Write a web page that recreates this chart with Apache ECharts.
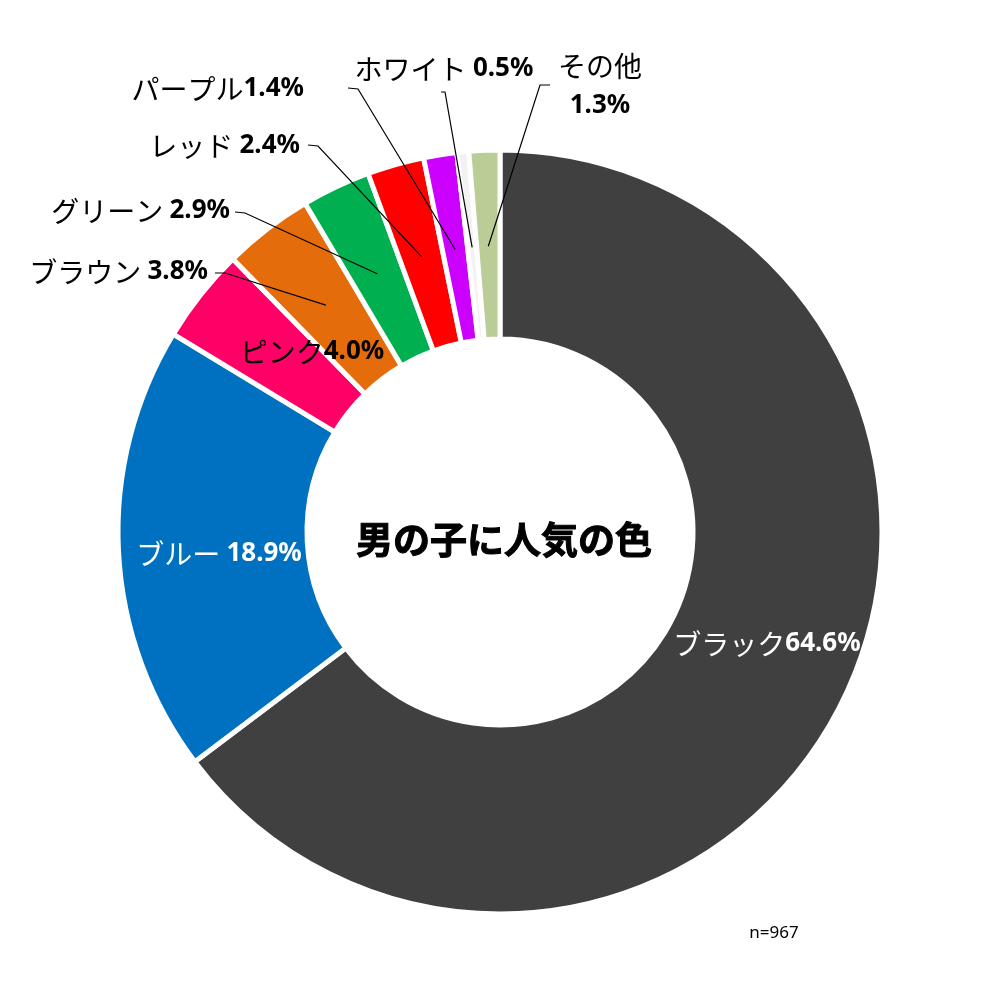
<!DOCTYPE html>
<html><head><meta charset="utf-8">
<script src="https://cdn.jsdelivr.net/npm/echarts@6/dist/echarts.min.js"></script>
<style>html,body{margin:0;padding:0;background:#fff}#c{width:1000px;height:1000px}</style>
</head><body><div id="c"></div>
<script>
// ---- data ----
const categories = ['ブラック','ブルー','ピンク','ブラウン','グリーン','レッド','パープル','ホワイト','その他'];
const shares = [64.6, 18.9, 4.0, 3.8, 2.9, 2.4, 1.4, 0.5, 1.3];
const sliceColors = ['#404040','#0070C0','#FF0066','#E46C0A','#00B050','#FF0000','#CC00FF','#F2F2F2','#BACD97'];
const chartTitle = '男の子に人気の色';
const sampleNote = 'n=967';

// ---- label layout (style / positions only) ----
const labelSpots = [
  {x:767, y:644, align:'center', color:'#fff', sep:''},
  {x:219, y:554, align:'center', color:'#fff', sep:' '},
  {x:312, y:352, align:'center', color:'#000', sep:''},
  {x:208, y:272, align:'right',  color:'#000', sep:' ', tick:[[225,273],[215,273]]},
  {x:230, y:211, align:'right',  color:'#000', sep:' ', tick:[[245,213],[235,212]]},
  {x:300, y:146, align:'right',  color:'#000', sep:' ', tick:[[318,146],[308,145]]},
  {x:304, y:89,  align:'right',  color:'#000', sep:'',  tick:[[358,89],[348,88]]},
  {x:444, y:69,  align:'center', color:'#000', sep:' ', tick:[[445,92],[441,92]]},
  {x:600, y:86,  align:'center', color:'#000', twoLine:true, tick:[[540,85],[550,85]]}
];

const chart = echarts.init(document.getElementById('c'), null, {renderer:'canvas'});

const ringData = categories.map((n, i) => ({name:n, value:shares[i], itemStyle:{color:sliceColors[i]}}));
const labelData = categories.map((n, i) => ({
  name:n, value:shares[i],
  label:{color:labelSpots[i].color},
  labelLine:{show: !!labelSpots[i].tick}
}));

chart.setOption({
  animation:false,
  backgroundColor:'#fff',
  series:[
    {
      type:'pie', center:[500,532], radius:[193,382], startAngle:90, clockwise:true,
      avoidLabelOverlap:false, silent:true,
      itemStyle:{borderColor:'#fff', borderWidth:5},
      label:{show:false}, labelLine:{show:false},
      data: ringData
    },
    {
      type:'pie', center:[500,532], radius:[280,286], startAngle:90, clockwise:true,
      avoidLabelOverlap:false, silent:true, z:5,
      itemStyle:{color:'rgba(0,0,0,0)', borderWidth:0},
      label:{
        show:true, position:'outer',
        fontFamily:'Noto Sans CJK JP', fontSize:28, lineHeight:39,
        formatter: p => {
          const s = labelSpots[p.dataIndex];
          const pct = shares[p.dataIndex].toFixed(1) + '%';
          return s.twoLine ? `{n|${p.name}}\n{p|${pct}}` : `{n|${p.name}}${s.sep}{p|${pct}}`;
        },
        rich:{
          n:{fontFamily:'Noto Sans CJK JP', fontSize:28, lineHeight:39},
          p:{fontFamily:'Noto Sans', fontWeight:'bold', fontSize:26, lineHeight:39}
        }
      },
      labelLine:{show:true, length:10, length2:10, lineStyle:{color:'#000', width:1.2}},
      labelLayout: params => {
        const s = labelSpots[params.dataIndex];
        const out = {x:s.x, y:s.y, align:s.align, verticalAlign:'middle'};
        if (s.tick && params.labelLinePoints) {
          out.labelLinePoints = [params.labelLinePoints[0], s.tick[0], s.tick[1]];
        }
        return out;
      },
      data: labelData
    }
  ],
  graphic:[
    {type:'text', x:504, y:540, silent:true, z:10,
     style:{text:chartTitle, align:'center', verticalAlign:'middle',
            font:'bold 37px "Noto Sans CJK JP"', fill:'#000', stroke:'#000', lineWidth:1}},
    {type:'text', x:774, y:933, silent:true, z:10,
     style:{text:sampleNote, align:'center', verticalAlign:'middle',
            font:'17px "Noto Sans"', fill:'#000'}}
  ]
});
</script></body></html>
